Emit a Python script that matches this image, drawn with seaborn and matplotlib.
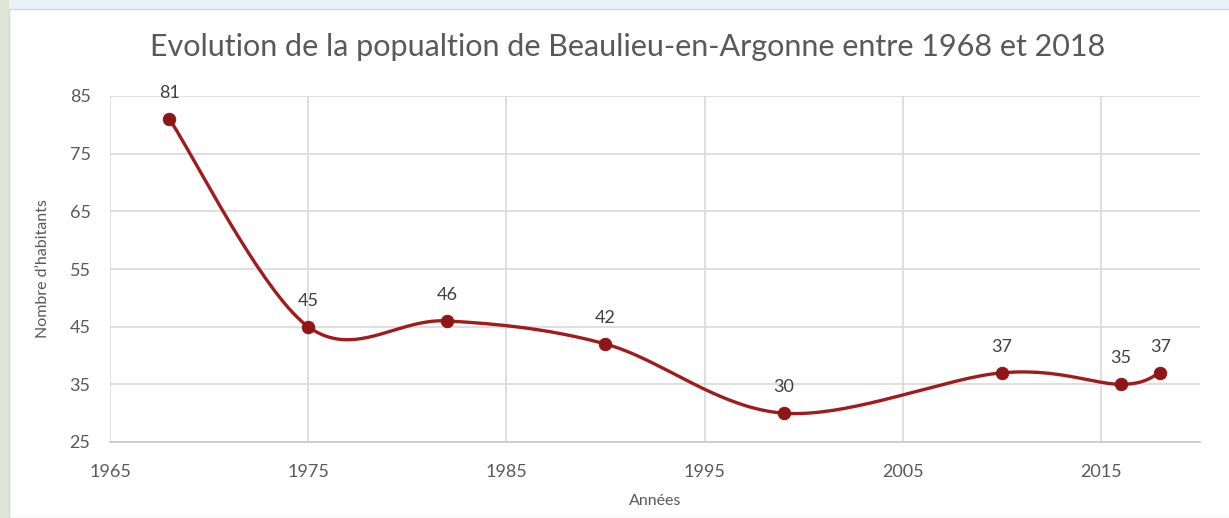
import numpy as np
import pandas as pd
import matplotlib
matplotlib.use("Agg")
import matplotlib.pyplot as plt
import seaborn as sns
from matplotlib.patches import Rectangle

annees = [1968, 1975, 1982, 1990, 1999, 2010, 2016, 2018]
habitants = [81, 45, 46, 42, 30, 37, 35, 37]
x_ticks = [1965, 1975, 1985, 1995, 2005, 2015]
y_ticks = [25, 35, 45, 55, 65, 75, 85]
titre = "Evolution de la popualtion de Beaulieu-en-Argonne entre 1968 et 2018"


def smooth_curve(xs, ys, n=40):
    # Bezier smoothing similar to the spreadsheet "smoothed line" option
    xs = np.asarray(xs, float)
    ys = np.asarray(ys, float)
    pts = np.column_stack([xs, ys])
    out = []
    for i in range(len(pts) - 1):
        p0 = pts[max(i - 1, 0)]
        p1 = pts[i]
        p2 = pts[i + 1]
        p3 = pts[min(i + 2, len(pts) - 1)]
        c1 = p1 + (p2 - p0) / 6
        c2 = p2 - (p3 - p1) / 6
        t = np.linspace(0, 1, n)[:, None]
        seg = ((1 - t) ** 3) * p1 + 3 * ((1 - t) ** 2) * t * c1 + 3 * (1 - t) * t ** 2 * c2 + t ** 3 * p2
        out.append(seg if i == 0 else seg[1:])
    seg = np.vstack(out)
    return seg[:, 0], seg[:, 1]


def main():
    sns.set_theme(style="white")
    plt.rcParams['font.family'] = ['Lato', 'DejaVu Sans']

    fig = plt.figure(figsize=(12.29, 5.18), dpi=100)
    fig.patch.set_facecolor("#eaf2f9")
    fig.patches.append(Rectangle((0, 0), 9 / 1229, 1, transform=fig.transFigure,
                                 facecolor="#dde5d6", edgecolor="none", zorder=-2))
    fig.patches.append(Rectangle((9 / 1229, 0), 1, 1 - 9 / 518, transform=fig.transFigure,
                                 facecolor="white", edgecolor="#d6d6d6", lw=1, zorder=-1))

    ax = fig.add_axes([110 / 1229, 1 - 442 / 518, (1200 - 110) / 1229, (442 - 96) / 518])
    ax.set_facecolor("none")

    sx, sy = smooth_curve(annees, habitants)
    courbe = pd.DataFrame({"annee": sx, "hab": sy})
    points = pd.DataFrame({"annee": annees, "hab": habitants})

    rouge = "#a01c1c"
    sns.lineplot(data=courbe, x="annee", y="hab", ax=ax, color=rouge, lw=2.4,
                 estimator=None, sort=False, zorder=3)
    sns.scatterplot(data=points, x="annee", y="hab", ax=ax, color="#8e1616",
                    s=80, edgecolor="#8e1616", zorder=4)

    for a, h in zip(annees, habitants):
        ax.annotate(str(h), (a, h), xytext=(0, 13), textcoords="offset points",
                    ha="center", va="bottom", fontsize=13, color="#404040")

    ax.set_xlim(1965, 2020)
    ax.set_ylim(25, 85)
    ax.set_xticks(x_ticks)
    ax.set_yticks(y_ticks)
    ax.grid(True, color="#d9d9d9", lw=1.2)
    for s in ["left", "right", "top"]:
        ax.spines[s].set_visible(False)
    ax.spines["bottom"].set_color("#c8c8c8")
    ax.spines["bottom"].set_linewidth(1.2)
    ax.tick_params(axis="both", length=0, labelsize=13, labelcolor="#595959")
    ax.tick_params(axis="x", pad=16)
    ax.tick_params(axis="y", pad=14)

    ax.set_xlabel("Années", fontsize=11.5, color="#595959", labelpad=10)
    ax.set_ylabel("Nombre d’habitants", fontsize=11.5, color="#595959", labelpad=14)

    fig.text(628 / 1229, 1 - 47 / 518, titre, ha="center", va="center",
             fontsize=22, color="#595959")

    fig.savefig("out.png", dpi=100, facecolor=fig.get_facecolor())
    plt.close(fig)


if __name__ == "__main__":
    main()
